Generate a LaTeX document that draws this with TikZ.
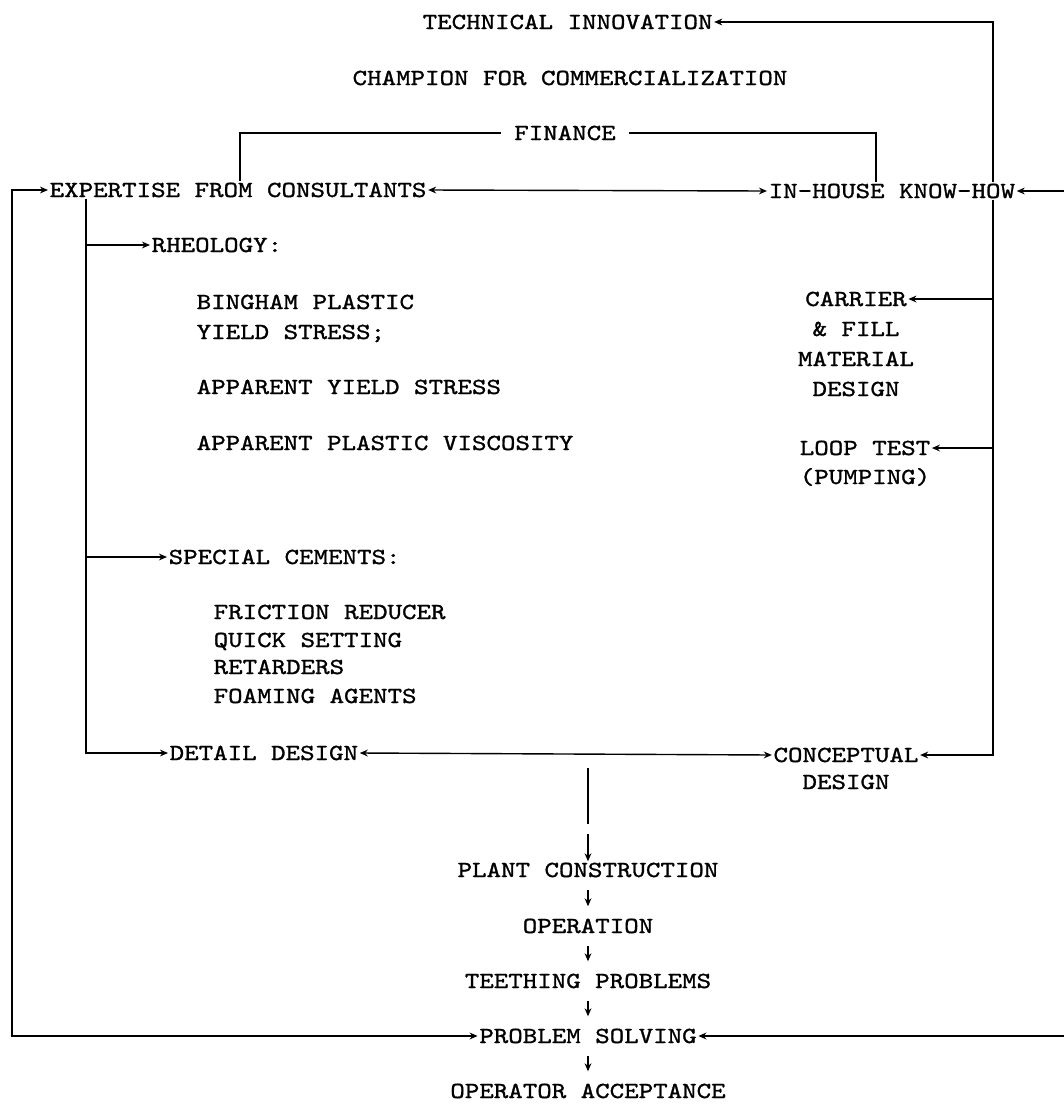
\documentclass[tikz,border=0pt]{standalone}
\usepackage{fontspec}
\usetikzlibrary{arrows.meta}

\newfontfamily\typew{lmmono10-regular}[Extension=.otf, FakeStretch=1.2, FakeBold=1.2]
\newcommand\tw{\typew\fontsize{11.5pt}{14pt}\selectfont}

\tikzset{
    txt/.style={font=\tw, inner sep=0.5pt, text height=7pt, text depth=0pt},
    lbl/.style={txt, anchor=west},
    arr/.style={-{Stealth[length=4pt,width=3.4pt]}},
    dbl/.style={{Stealth[length=4pt,width=3.4pt]}-{Stealth[length=4pt,width=3.4pt]}},
}

\begin{document}
\begin{tikzpicture}[x=0.5pt, y=-0.5pt, line width=0.7pt]
    \useasboundingbox (0,0) rectangle (1064,1104);

    % Top of the chart
    \node[lbl] (techinno) at (421,22) {TECHNICAL INNOVATION};
    \node[txt] (champion) at (570,78) {CHAMPION FOR COMMERCIALIZATION};
    \node[txt] (finance) at (565,133) {FINANCE};

    % The two sources of know-how
    \node[lbl] (expert) at (48,190) {EXPERTISE FROM CONSULTANTS};
    \node[lbl] (inhouse) at (767,191) {IN-HOUSE KNOW-HOW};

    % Consultants' side
    \node[lbl] (rheology) at (150,245) {RHEOLOGY:};
    \node[lbl] (bingham) at (195,302) {BINGHAM PLASTIC};
    \node[lbl] (yieldst) at (195,332) {YIELD STRESS;};
    \node[lbl] (appyield) at (195,387) {APPARENT YIELD STRESS};
    \node[lbl] (appvisc) at (195,443) {APPARENT PLASTIC VISCOSITY};
    \node[lbl] (special) at (167,557) {SPECIAL CEMENTS:};
    \node[lbl] (friction) at (212,612) {FRICTION REDUCER};
    \node[lbl] (quick) at (212,640) {QUICK SETTING};
    \node[lbl] (retard) at (212,667) {RETARDERS};
    \node[lbl] (foaming) at (212,696) {FOAMING AGENTS};
    \node[lbl] (detail) at (168,753) {DETAIL DESIGN};

    % In-house side
    \node[txt] (carrier) at (856,299) {CARRIER};
    \node[txt] (fill) at (856,329) {\& FILL};
    \node[txt] (material) at (856,359) {MATERIAL};
    \node[txt] (matdesign) at (856,389) {DESIGN};
    \node[txt] (loop) at (865,448) {LOOP TEST};
    \node[txt] (pumping) at (865,477) {(PUMPING)};
    \node[txt] (concept) at (846,755) {CONCEPTUAL};
    \node[txt] (condesign) at (846,782) {DESIGN};

    % Down to the plant
    \node[txt] (plant) at (588,870) {PLANT CONSTRUCTION};
    \node[txt] (oper) at (588,926) {OPERATION};
    \node[txt] (teeth) at (588,981) {TEETHING PROBLEMS};
    \node[txt] (probsolve) at (588,1036) {PROBLEM SOLVING};
    \node[txt] (accept) at (588,1091) {OPERATOR ACCEPTANCE};

    % Where the long lines run
    \coordinate (outl) at (12,0);
    \coordinate (inl) at (86,0);
    \coordinate (finl) at (240,0);
    \coordinate (finr) at (876,0);
    \coordinate (rv) at (993,0);
    \coordinate (redge) at (1064,0);
    \coordinate (split) at (588,768);

    % Finance and innovation
    \draw[shorten <=6pt] (finance.west) -| (expert.north -| finl);
    \draw[shorten <=6pt] (finance.east) -| (inhouse.north -| finr);
    \draw[arr] (inhouse.north -| rv) |- (techinno.east);

    % Know-how links
    \draw[dbl] (expert.east) -- (inhouse.west);
    \draw[arr] (redge |- inhouse.east) -- (inhouse.east);
    \draw[arr] (inhouse.south -| rv) |- (concept.east);
    \draw[arr] (rv |- carrier.east) -- (carrier.east);
    \draw[arr] (rv |- loop.east) -- (loop.east);
    \draw[arr] (expert.south -| inl) |- (detail.west);
    \draw[arr] (inl |- rheology.west) -- (rheology.west);
    \draw[arr] (inl |- special.west) -- (special.west);
    \draw[dbl] (detail.east) -- (concept.west);

    % Feedback loop
    \draw[dbl] (expert.west) -- (expert.west -| outl) -- (probsolve.west -| outl) -- (probsolve.west);
    \draw[arr] (redge |- probsolve.east) -- (probsolve.east);

    % Sequence
    \draw[arr, dash pattern=on 28pt off 5pt on 40pt] (split) -- (plant.north);
    \foreach \a/\b in {plant/oper, oper/teeth, teeth/probsolve, probsolve/accept}
        \draw[arr, shorten <=5.5pt, shorten >=5.5pt] (\a) -- (\b);
\end{tikzpicture}
\end{document}
